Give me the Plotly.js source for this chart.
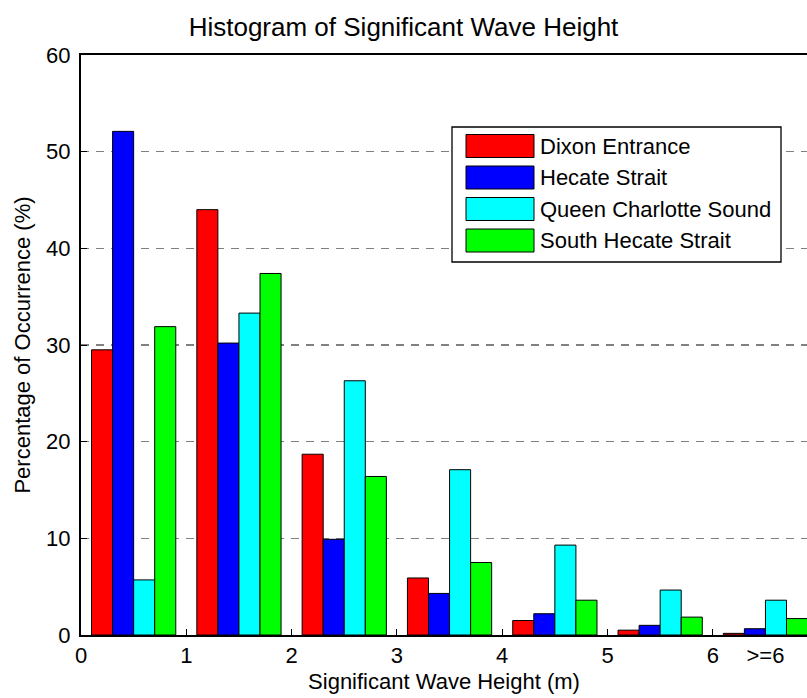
<!DOCTYPE html>
<html>
<head>
<meta charset="utf-8">
<script src="https://cdn.plot.ly/plotly-3.0.1.min.js"></script>
<style>html,body{margin:0;padding:0;background:#fff}#chart{width:807px;height:698px}</style>
</head>
<body>
<div id="chart"></div>
<script>
// Bin centres (m) and tick labels
const binCentres = [0.5, 1.5, 2.5, 3.5, 4.5, 5.5, 6.5];
const tickValues = [0, 1, 2, 3, 4, 5, 6, 6.5];
const tickLabels = ['0', '1', '2', '3', '4', '5', '6', '>=6'];

// Series names and colours
const seriesNames = ['Dixon Entrance', 'Hecate Strait', 'Queen Charlotte Sound', 'South Hecate Strait'];
const seriesColors = ['#ff0000', '#0000ff', '#00ffff', '#00ff00'];

// Percentage of occurrence (%)
const dixonEntrance       = [29.5, 44.0, 18.7, 5.9, 1.5, 0.5, 0.17];
const hecateStrait        = [52.1, 30.2, 9.9, 4.3, 2.2, 1.0, 0.65];
const queenCharlotteSound = [5.7, 33.3, 26.3, 17.1, 9.3, 4.65, 3.6];
const southHecateStrait   = [31.9, 37.4, 16.4, 7.5, 3.6, 1.85, 1.7];

const seriesValues = [dixonEntrance, hecateStrait, queenCharlotteSound, southHecateStrait];

const FONT = 'Arial, "Liberation Sans", Helvetica, sans-serif';

const traces = seriesNames.map((name, i) => ({
  type: 'bar',
  name: name,
  x: binCentres,
  y: seriesValues[i],
  marker: {color: seriesColors[i], line: {color: '#000', width: 1}},
  showlegend: false,
  hoverinfo: 'x+y+name'
}));

// Plot area geometry in pixels (for placing the legend box)
const L = 81, T = 55, W = 726, H = 580;
const px = v => (v - L) / W;
const py = v => (T + H - v) / H;

const shapes = [];
const annotations = [];
shapes.push({type: 'rect', xref: 'paper', yref: 'paper',
  x0: px(452), x1: px(781), y0: py(262), y1: py(127),
  line: {color: '#000', width: 1.3}, fillcolor: '#fff', layer: 'above'});
const rowCentres = [146, 177.5, 209, 240.5];
seriesNames.forEach((name, i) => {
  const c = rowCentres[i];
  shapes.push({type: 'rect', xref: 'paper', yref: 'paper',
    x0: px(466), x1: px(534), y0: py(c + 11.5), y1: py(c - 11.5),
    line: {color: '#000', width: 1}, fillcolor: seriesColors[i], layer: 'above'});
  annotations.push({xref: 'paper', yref: 'paper', x: px(538), y: py(c),
    xanchor: 'left', yanchor: 'middle', showarrow: false, text: name,
    font: {family: FONT, size: 22, color: '#000'}});
});

const layout = {
  width: 807, height: 698,
  margin: {l: L, r: 0, t: T, b: 698 - T - H, pad: 0},
  paper_bgcolor: '#fff', plot_bgcolor: '#fff',
  barmode: 'group', bargap: 0.2, bargroupgap: 0,
  font: {family: FONT, size: 22, color: '#000'},
  title: {text: 'Histogram of Significant Wave Height', x: 0.5, xanchor: 'center',
    y: 1 - 27 / 698, yanchor: 'middle', font: {family: FONT, size: 26, color: '#000'}},
  xaxis: {
    range: [0, W / 105.3], tickmode: 'array', tickvals: tickValues, ticktext: tickLabels,
    ticks: 'inside', ticklen: 6, tickwidth: 1, tickcolor: '#000',
    showline: true, linecolor: '#000', linewidth: 2, mirror: true,
    showgrid: false, zeroline: false,
    tickfont: {family: FONT, size: 22, color: '#000'},
    title: {text: 'Significant Wave Height (m)', standoff: 6,
      font: {family: FONT, size: 22, color: '#000'}}
  },
  yaxis: {
    range: [0, 60], tickmode: 'array', tickvals: [0, 10, 20, 30, 40, 50, 60],
    ticks: 'inside', ticklen: 6, tickwidth: 1, tickcolor: '#000',
    showline: true, linecolor: '#000', linewidth: 2,
    showgrid: true, gridcolor: '#808080', gridwidth: 1.2, griddash: '8px,7px',
    zeroline: false, ticklabelstandoff: 4,
    tickfont: {family: FONT, size: 22, color: '#000'},
    title: {text: 'Percentage of Occurrence (%)', standoff: 9,
      font: {family: FONT, size: 22, color: '#000'}}
  },
  shapes: shapes,
  annotations: annotations
};

Plotly.newPlot('chart', traces, layout, {displayModeBar: false, staticPlot: true});
</script>
</body>
</html>
